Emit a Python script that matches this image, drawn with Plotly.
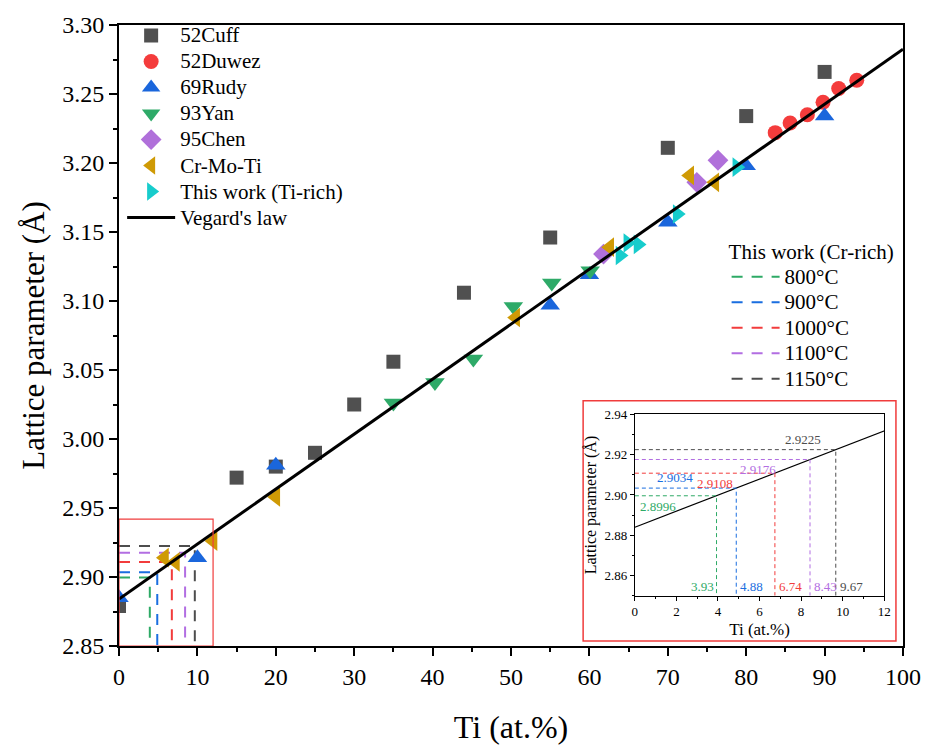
import plotly.graph_objects as go

# ---- data ----
cuff_x = [0, 15, 20, 25, 30, 35, 44, 55, 70, 80, 90]
cuff_y = [2.879, 2.972, 2.980, 2.990, 3.025, 3.056, 3.106, 3.146, 3.211, 3.234, 3.266]

duwez_x = [83.7, 85.6, 87.8, 89.8, 91.8, 94.1]
duwez_y = [3.222, 3.229, 3.235, 3.244, 3.254, 3.260]

rudy_x = [0, 10, 20, 55, 60, 70, 80, 90]
rudy_y = [2.885, 2.914, 2.981, 3.097, 3.119, 3.157, 3.198, 3.234]

yan_x = [35, 40.3, 45.2, 50.3, 55.2, 60.1]
yan_y = [3.026, 3.041, 3.058, 3.096, 3.113, 3.122]

chen_x = [61.8, 73.7, 76.4]
chen_y = [3.134, 3.186, 3.202]

crmoti_x = [5.8, 7.2, 12, 20, 50.6, 62.6, 72.8, 76.0]
crmoti_y = [2.914, 2.911, 2.926, 2.958, 3.088, 3.139, 3.191, 3.186]

tirich_x = [63.9, 64.9, 66.2, 71.2, 78.8]
tirich_y = [3.133, 3.142, 3.141, 3.163, 3.197]

vegard_x = [0, 100]
vegard_y = [2.884, 3.2825]

cr_rich_labels = ["800°C", "900°C", "1000°C", "1100°C", "1150°C"]
cr_rich_ti = [3.93, 4.88, 6.74, 8.43, 9.67]
cr_rich_a = [2.8996, 2.9034, 2.9108, 2.9176, 2.9225]
cr_rich_colors = ["#2eaa66", "#1a6ee0", "#f23c3c", "#b26ee2", "#4d4d4d"]

FONT = "Liberation Serif"
A_MIN = 2.85


def big(txt, size):
    return f'<span style="font-size:{size}px">{txt}</span>'


fig = go.Figure()

series = [
    ("52Cuff", cuff_x, cuff_y, "square", "#505050", 14),
    ("52Duwez", duwez_x, duwez_y, "circle", "#f43c3c", 15),
    ("69Rudy", rudy_x, rudy_y, "triangle-up", "#1a66dc", 17),
    ("93Yan", yan_x, yan_y, "triangle-down", "#2eaa68", 17),
    ("95Chen", chen_x, chen_y, "diamond", "#b070da", 16),
    ("Cr-Mo-Ti", crmoti_x, crmoti_y, "triangle-left", "#cf9a05", 17),
    ("This work (Ti-rich)", tirich_x, tirich_y, "triangle-right", "#17cccc", 17),
]

# Cr-rich guide lines in the main panel (legend2)
for lab, tx, a, c in zip(cr_rich_labels, cr_rich_ti, cr_rich_a, cr_rich_colors):
    fig.add_trace(go.Scatter(
        x=[0, tx, tx], y=[a, a, A_MIN], mode="lines", name=big(lab, 21),
        line=dict(color=c, width=2, dash="11px,9px"),
        legend="legend2", xaxis="x", yaxis="y",
    ))

for name, xs, ys, sym, col, sz in series:
    fig.add_trace(go.Scatter(
        x=xs, y=ys, mode="markers", name=big(name, 21),
        marker=dict(symbol=sym, color=col, size=sz, line=dict(width=0)),
        xaxis="x", yaxis="y",
    ))

fig.add_trace(go.Scatter(
    x=vegard_x, y=vegard_y, mode="lines", name=big("Vegard's law", 21),
    line=dict(color="black", width=3), xaxis="x", yaxis="y",
))

# ---- inset ----
fig.add_trace(go.Scatter(
    x=vegard_x, y=vegard_y, mode="lines", showlegend=False,
    line=dict(color="black", width=1.2), xaxis="x2", yaxis="y2",
))
for lab, tx, a, c in zip(cr_rich_labels, cr_rich_ti, cr_rich_a, cr_rich_colors):
    fig.add_trace(go.Scatter(
        x=[0, tx, tx], y=[a, a, A_MIN], mode="lines", showlegend=False,
        line=dict(color=c, width=1, dash="4px,3px"),
        xaxis="x2", yaxis="y2",
    ))

annotations = []
# value labels on the inset guide lines
a_label_pos = [(0.15, "below", "left"), (0.95, "above", "left"), (4.8, "below", "right"),
               (4.98, "below", "left"), (7.15, "above", "left")]
for (lx, side, anchor), a, c in zip(a_label_pos, cr_rich_a, cr_rich_colors):
    annotations.append(dict(
        x=lx, y=a, xref="x2", yref="y2", text=f"{a:.4f}", showarrow=False,
        xanchor=anchor, yanchor="top" if side == "below" else "bottom",
        font=dict(family=FONT, size=13, color=c),
        yshift=-1 if side == "below" else 1,
    ))
for i, (tx, c) in enumerate(zip(cr_rich_ti, cr_rich_colors)):
    annotations.append(dict(
        x=tx, y=A_MIN, xref="x2", yref="y2", text=f"{tx:.2f}", showarrow=False,
        xanchor="right" if i == 0 else "left", yanchor="bottom",
        xshift=-1 if i == 0 else 2, yshift=0,
        font=dict(family=FONT, size=13, color=c),
    ))

shapes = [
    dict(type="rect", xref="x", yref="y", x0=0, x1=12, y0=A_MIN, y1=2.942,
         line=dict(color="#f03c3c", width=1.2), layer="above"),
    dict(type="rect", xref="paper", yref="paper", x0=0.592, x1=0.991, y0=0.008, y1=0.395,
         line=dict(color="#f03c3c", width=1.5), fillcolor="white", layer="below"),
]

axis_common = dict(showgrid=False, zeroline=False, showline=True, linecolor="black",
                   mirror=True, ticks="outside", tickcolor="black")

fig.update_layout(
    width=936, height=751,
    margin=dict(l=119, r=33, t=18, b=103),
    paper_bgcolor="white", plot_bgcolor="white",
    font=dict(family=FONT, color="black"),
    xaxis=dict(**axis_common, range=[0, 100], dtick=10, linewidth=2, tickwidth=2,
               ticklen=8, tickfont=dict(family=FONT, size=24),
               minor=dict(dtick=5, ticklen=4, tickwidth=2, ticks="outside", tickcolor="black"),
               title=dict(text="Ti (at.%)", font=dict(family=FONT, size=32), standoff=27)),
    yaxis=dict(**axis_common, range=[A_MIN, 3.30], dtick=0.05, tickformat=".2f",
               linewidth=2, tickwidth=2, ticklen=8, tickfont=dict(family=FONT, size=24),
               minor=dict(dtick=0.025, ticklen=4, tickwidth=2, ticks="outside", tickcolor="black"),
               title=dict(text="Lattice parameter (Å)", font=dict(family=FONT, size=31), standoff=8)),
    xaxis2=dict(**axis_common, domain=[0.658, 0.976], anchor="y2", range=[0, 12], dtick=2,
                linewidth=1, ticklen=4, tickfont=dict(family=FONT, size=13),
                minor=dict(dtick=1, ticklen=2, ticks="outside", tickcolor="black"),
                title=dict(text="Ti (at.%)", font=dict(family=FONT, size=17), standoff=4)),
    yaxis2=dict(**axis_common, domain=[0.081, 0.373], anchor="x2", range=[A_MIN, 2.94],
                dtick=0.02, tickformat=".2f", linewidth=1, ticklen=4,
                tickfont=dict(family=FONT, size=13),
                minor=dict(dtick=0.01, ticklen=2, ticks="outside", tickcolor="black"),
                title=dict(text="Lattice parameter (Å)", font=dict(family=FONT, size=16), standoff=3)),
    legend=dict(x=0.004, y=1.012, xanchor="left", yanchor="top", bgcolor="rgba(0,0,0,0)",
                font=dict(family=FONT, size=17.7), itemwidth=48, tracegroupgap=0,
                traceorder="normal"),
    legend2=dict(x=0.775, y=0.667, xanchor="left", yanchor="top", bgcolor="rgba(0,0,0,0)",
                 font=dict(family=FONT, size=17.3), itemwidth=48,
                 title=dict(text="This work (Cr-rich)", font=dict(family=FONT, size=21))),
    shapes=shapes,
    annotations=annotations,
    showlegend=True,
)

fig.write_html("out.html")
